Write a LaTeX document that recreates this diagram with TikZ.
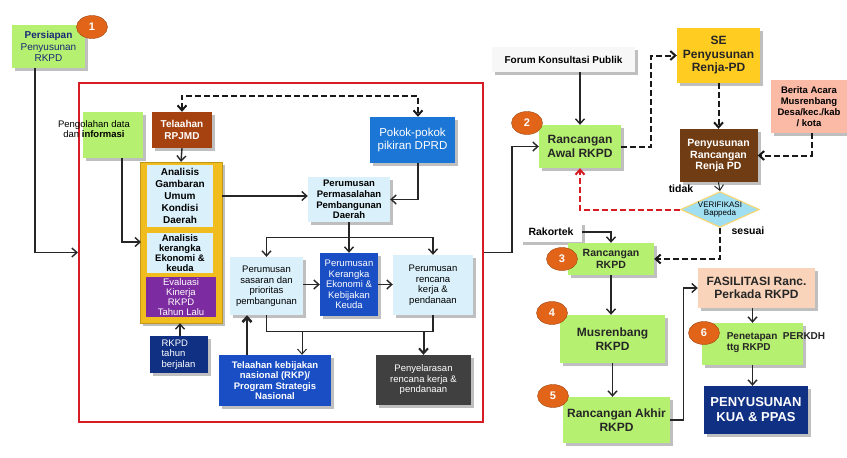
\documentclass[tikz,border=0pt]{standalone}
\usepackage{fontspec}
\setmainfont{Liberation Sans}
\usetikzlibrary{arrows.meta,shapes.geometric,shadows}

\definecolor{hijau}{RGB}{182,240,112}
\definecolor{birumuda}{RGB}{218,241,251}
\definecolor{biru}{RGB}{28,118,214}
\definecolor{birutua}{RGB}{26,78,196}
\definecolor{navy}{RGB}{16,48,132}
\definecolor{ungu}{RGB}{124,44,160}
\definecolor{emas}{RGB}{240,188,30}
\definecolor{kuning}{RGB}{255,204,34}
\definecolor{coklat}{RGB}{112,60,20}
\definecolor{bata}{RGB}{166,66,16}
\definecolor{merahmuda}{RGB}{250,186,166}
\definecolor{persik}{RGB}{250,212,186}
\definecolor{abu}{RGB}{64,64,64}
\definecolor{oranye}{RGB}{226,100,24}
\definecolor{belah}{RGB}{160,222,242}
\definecolor{bingkai}{RGB}{214,28,36}
\definecolor{tinta}{RGB}{24,40,118}

\tikzset{
  kotak/.style={draw=none, align=center, inner sep=1pt,
    drop shadow={shadow xshift=3pt, shadow yshift=-3pt, opacity=0.25, fill=black}},
  kecil/.style={font=\fontsize{9.5}{10.5}\selectfont},
  tebal/.style={font=\bfseries\fontsize{10}{11.5}\selectfont},
  besar/.style={font=\bfseries\fontsize{12}{13.5}\selectfont},
  lencana/.style={ellipse, draw=oranye!70!black, fill=oranye, text=white,
    font=\bfseries\fontsize{11}{11}\selectfont, minimum width=31pt, minimum height=23pt, inner sep=0pt},
  panah/.style={draw=black!85, line width=1.4pt, -{Straight Barb[length=5pt,width=9pt]}},
  garis/.style={draw=black!85, line width=1.4pt},
  putus/.style={draw=black!90, line width=2pt, dash pattern=on 6pt off 3pt,
    -{Straight Barb[length=5pt,width=9pt]}}
}

\begin{document}
\begin{tikzpicture}[x=1pt, y=-1pt]
  \useasboundingbox (0,0) rectangle (847,458);
  \fill[white] (0,0) rectangle (847,458);

  \node[kotak, fill=hijau, text=tinta, minimum width=73pt, minimum height=43pt,
    font=\fontsize{10}{11.5}\selectfont] (persiapan) at (48.5,46.5) {\textbf{Persiapan}\\Penyusunan\\RKPD};
  \node[lencana] (b1) at (92,27) {1};

  \node[draw=bingkai, line width=2.2pt, minimum width=404pt, minimum height=339pt] (frame) at (281,252.5) {};

  \node[kotak, fill=bata, text=white, tebal, minimum width=60pt, minimum height=36pt] (telRPJMD) at (182,130) {Telaahan\\RPJMD};
  \node[kotak, fill=hijau, minimum width=60pt, minimum height=46pt] (olah) at (113,135) {};
  \node[align=center, inner sep=0pt, font=\fontsize{9.5}{10.5}\selectfont] (olahtxt) at (94,129) {Pengolahan data\\dan \textbf{informasi}};

  \node[kotak, fill=emas, draw=emas!80!black, minimum width=82pt, minimum height=161pt] (analisis) at (181,242.5) {};
  \node[fill=birumuda, align=center, inner sep=0pt, minimum width=66pt, minimum height=62pt,
    font=\bfseries\fontsize{10}{12}\selectfont] (gambaran) at (180,196) {Analisis\\Gambaran\\Umum\\Kondisi\\Daerah};
  \node[fill=birumuda, align=center, inner sep=0pt, minimum width=66pt, minimum height=40pt,
    font=\bfseries\fontsize{9.5}{10}\selectfont] (kerangka) at (180,253) {Analisis\\kerangka\\Ekonomi \&\\keuda};
  \node[fill=ungu, text=white, align=center, inner sep=0pt, minimum width=70pt, minimum height=40pt,
    font=\fontsize{9.5}{9.8}\selectfont] (evaluasi) at (181,297) {Evaluasi\\Kinerja\\RKPD\\Tahun Lalu};
  \node[kotak, fill=navy, text=white, kecil, align=left, minimum width=58pt, minimum height=37pt] (berjalan) at (178.5,354.5) {RKPD\\tahun\\berjalan};

  \node[kotak, fill=biru, text=white, minimum width=85pt, minimum height=46pt,
    font=\fontsize{11.5}{13}\selectfont] (pokok) at (412.5,140) {Pokok-pokok\\pikiran DPRD};
  \node[kotak, fill=birumuda, minimum width=82pt, minimum height=45pt,
    font=\bfseries\fontsize{9.5}{10.8}\selectfont] (masalah) at (349,199.5) {Perumusan\\Permasalahan\\Pembangunan\\Daerah};

  \node[kotak, fill=birumuda, kecil, minimum width=73pt, minimum height=58pt] (sasaran) at (266.5,286) {Perumusan\\sasaran dan\\prioritas\\pembangunan};
  \node[kotak, fill=birutua, text=white, kecil, minimum width=58pt, minimum height=63pt] (kebijakan) at (349,284.5) {Perumusan\\Kerangka\\Ekonomi \&\\Kebijakan\\Keuda};
  \node[kotak, fill=birumuda, kecil, minimum width=80pt, minimum height=60pt] (rencana) at (433,285) {Perumusan\\rencana\\kerja \&\\pendanaan};
  \node[kotak, fill=birutua, text=white, minimum width=112pt, minimum height=51pt,
    font=\bfseries\fontsize{9.5}{10.5}\selectfont] (nasional) at (275,380.5) {Telaahan kebijakan\\nasional (RKP)/\\Program Strategis\\Nasional};
  \node[kotak, fill=abu, text=white, kecil, minimum width=95pt, minimum height=50pt] (selaras) at (423.5,380) {Penyelarasan\\rencana kerja \&\\pendanaan};

  \node[kotak, fill=black!3, tebal, minimum width=143pt, minimum height=25pt] (forum) at (563.5,59.5) {Forum Konsultasi Publik};
  \node[kotak, fill=hijau, besar, text=black!85, minimum width=82pt, minimum height=43pt] (awal) at (580,146.5) {Rancangan\\Awal RKPD};
  \node[lencana] (b2) at (527,123) {2};

  \node[kotak, fill=kuning, besar, text=black!85, minimum width=83pt, minimum height=55pt] (se) at (718.5,55.5) {SE\\Penyusunan\\Renja-PD};
  \node[kotak, fill=coklat, text=white, minimum width=78pt, minimum height=53pt,
    font=\bfseries\fontsize{10.5}{11.5}\selectfont] (renja) at (718.5,155.5) {Penyusunan\\Rancangan\\Renja PD};
  \node[kotak, fill=merahmuda, minimum width=76pt, minimum height=53pt,
    font=\bfseries\fontsize{9.5}{10.8}\selectfont] (berita) at (809,106.5) {Berita Acara\\Musrenbang\\Desa/kec./kab\\/ kota};

  \node[diamond, draw=emas!60, fill=belah, line width=1.2pt, aspect=2.2, minimum width=78pt, minimum height=35pt,
    inner sep=0pt, align=center, font=\fontsize{8}{8.5}\selectfont] (verif) at (720,209.5) {VERIFIKASI\\Bappeda};
  \node[font=\bfseries\fontsize{10.5}{11}\selectfont] (tidak) at (681,189) {tidak};
  \node[font=\bfseries\fontsize{10.5}{11}\selectfont] (sesuai) at (748,231) {sesuai};

  \node[kotak, fill=white, minimum width=62pt, minimum height=20pt,
    font=\bfseries\fontsize{10.5}{11}\selectfont] (rakortek) at (551,232) {Rakortek};
  \node[kotak, fill=hijau, text=black!85, minimum width=86pt, minimum height=32pt,
    font=\bfseries\fontsize{10.5}{11.5}\selectfont] (rkpd) at (611,259) {Rancangan\\RKPD};
  \node[lencana] (b3) at (562,259) {3};

  \node[kotak, fill=hijau, besar, text=black!85, minimum width=105pt, minimum height=48pt] (musren) at (612.5,339) {Musrenbang\\RKPD};
  \node[lencana] (b4) at (552,313) {4};
  \node[kotak, fill=hijau, besar, text=black!85, minimum width=107pt, minimum height=46pt] (akhir) at (616.5,420) {Rancangan Akhir\\RKPD};
  \node[lencana] (b5) at (553,396) {5};

  \node[kotak, fill=persik, besar, text=black!85, minimum width=117pt, minimum height=40pt] (fasil) at (756.5,288) {FASILITASI Ranc.\\Perkada RKPD};
  \node[kotak, fill=hijau, minimum width=101pt, minimum height=42pt] (tetap) at (752.5,344) {};
  \node[align=left, inner sep=0pt, text=black!85, font=\bfseries\fontsize{10}{11}\selectfont] (tetaptxt) at (776,343) {Penetapan\ \ PERKDH\\ttg RKPD};
  \node[lencana] (b6) at (704,333) {6};
  \node[kotak, fill=navy, text=white, minimum width=104pt, minimum height=48pt,
    font=\bfseries\fontsize{13}{15}\selectfont] (kua) at (756,410) {PENYUSUNAN\\KUA \& PPAS};

  \coordinate (kin) at (141,242);
  \draw[panah] ([xshift=-13.5pt]persiapan.south) |- (frame.west);
  \draw[putus, {Straight Barb[length=5pt,width=9pt]}-{Straight Barb[length=5pt,width=9pt]}] (telRPJMD.north) -- ++(0,-16) -| ([xshift=5.5pt]pokok.north);
  \draw[panah] (telRPJMD.south) -- (analisis.north);
  \draw[panah] ([xshift=9pt]olah.south) |- (kin);
  \draw[panah] (berjalan.north -| 180,0) -- (analisis.south -| 180,0);
  \draw[panah] (gambaran.east -| analisis.east) -- (masalah.west |- gambaran.east);
  \draw[panah] ([xshift=5.5pt]pokok.south) |- (masalah.east);

  \path (masalah.south) ++(0,15) coordinate (split);
  \draw[panah] (masalah.south) -- (kebijakan.north);
  \draw[panah] (split) -| (sasaran.north);
  \draw[panah] (split) -| (rencana.north);
  \draw[panah] (sasaran.east |- kebijakan.east) -- (kebijakan.west);
  \draw[panah] (kebijakan.east) -- (rencana.west |- kebijakan.east);

  \path (sasaran.south) ++(0,16) coordinate (join);
  \draw[garis] (sasaran.south) -- (join) -| (rencana.south);
  \path (nasional.north) ++(27,0) coordinate (natop);
  \path (nasional.north) ++(-28,0) coordinate (nabase);
  \draw[panah, line width=1pt] (natop |- join) -- (natop);
  \draw[panah, line width=2pt] (selaras.north |- join) -- (selaras.north);
  \draw[panah, line width=2.6pt] (nabase) -- (nabase |- sasaran.south);

  \draw[panah] (frame.east) -- ++(28,0) |- (awal.west);
  \draw[panah] (awal.north |- forum.south) -- (awal.north);
  \draw[putus] (awal.east) -- ++(30,0) |- (se.west);
  \draw[putus] (se.south) -- (renja.north);
  \draw[putus] ([xshift=3pt]berita.south) |- (renja.east);
  \draw[panah, line width=1pt] (renja.south) -- (verif.north);
  \draw[putus, draw=bingkai] (verif.west) -| (awal.south);
  \draw[putus] (verif.south) |- (rkpd.east);
  \draw[panah] (rakortek.east) -| (rkpd.north);
  \draw[panah] (rkpd.south) -- (rkpd.south |- musren.north);
  \draw[panah] (musren.south) -- (musren.south |- akhir.north);
  \draw[panah] (akhir.east) -- ++(13,0) |- (fasil.west);
  \draw[panah] (tetap.north |- fasil.south) -- (tetap.north);
  \draw[panah] (tetap.south) -- (tetap.south |- kua.north);
\end{tikzpicture}
\end{document}
